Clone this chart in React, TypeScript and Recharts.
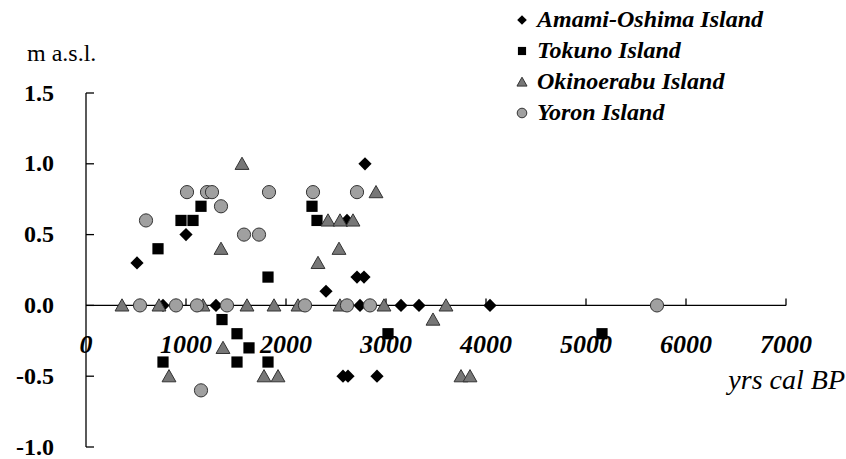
import React from 'react';
import {
  ScatterChart,
  Scatter,
  XAxis,
  YAxis,
  ReferenceLine,
  ReferenceDot,
} from 'recharts';

// sea-level index points, yrs cal BP vs m a.s.l.
const amamiPoints = [
  { x: 510, y: 0.3 }, { x: 1000, y: 0.5 }, { x: 770, y: 0 }, { x: 1300, y: 0 },
  { x: 2400, y: 0.1 }, { x: 2610, y: 0.6 }, { x: 2710, y: 0.2 }, { x: 2780, y: 0.2 },
  { x: 2790, y: 1.0 }, { x: 2740, y: 0 }, { x: 3150, y: 0 }, { x: 3330, y: 0 },
  { x: 4040, y: 0 }, { x: 2570, y: -0.5 }, { x: 2620, y: -0.5 }, { x: 2910, y: -0.5 },
];

const tokunoPoints = [
  { x: 720, y: 0.4 }, { x: 950, y: 0.6 }, { x: 1070, y: 0.6 }, { x: 1150, y: 0.7 },
  { x: 1820, y: 0.2 }, { x: 2260, y: 0.7 }, { x: 2310, y: 0.6 }, { x: 1360, y: -0.1 },
  { x: 1510, y: -0.2 }, { x: 1630, y: -0.3 }, { x: 770, y: -0.4 }, { x: 1510, y: -0.4 },
  { x: 1820, y: -0.4 }, { x: 3020, y: -0.2 }, { x: 5160, y: -0.2 },
];

const okinoerabuPoints = [
  { x: 360, y: 0 }, { x: 730, y: 0 }, { x: 1170, y: 0 }, { x: 1610, y: 0 },
  { x: 1880, y: 0 }, { x: 2120, y: 0 }, { x: 2540, y: 0 }, { x: 2980, y: 0 },
  { x: 3600, y: 0 }, { x: 1560, y: 1.0 }, { x: 1350, y: 0.4 }, { x: 2320, y: 0.3 },
  { x: 2420, y: 0.6 }, { x: 2540, y: 0.6 }, { x: 2670, y: 0.6 }, { x: 2530, y: 0.4 },
  { x: 2900, y: 0.8 }, { x: 1370, y: -0.3 }, { x: 830, y: -0.5 }, { x: 1780, y: -0.5 },
  { x: 1920, y: -0.5 }, { x: 3470, y: -0.1 }, { x: 3750, y: -0.5 }, { x: 3840, y: -0.5 },
];

const yoronPoints = [
  { x: 1010, y: 0.8 }, { x: 1210, y: 0.8 }, { x: 1260, y: 0.8 }, { x: 1830, y: 0.8 },
  { x: 2270, y: 0.8 }, { x: 2710, y: 0.8 }, { x: 1350, y: 0.7 }, { x: 600, y: 0.6 },
  { x: 1580, y: 0.5 }, { x: 1730, y: 0.5 }, { x: 1150, y: -0.6 }, { x: 540, y: 0 },
  { x: 900, y: 0 }, { x: 1110, y: 0 }, { x: 1410, y: 0 }, { x: 2190, y: 0 },
  { x: 2610, y: 0 }, { x: 2840, y: 0 }, { x: 5710, y: 0 },
];

const xTicks = [0, 1000, 2000, 3000, 4000, 5000, 6000, 7000];
const yTicks = [-1, -0.5, 0, 0.5, 1, 1.5];

const FONT = "'Liberation Serif', 'Times New Roman', Times, serif";

type MarkerKind = 'diamond' | 'square' | 'triangle' | 'circle';

function marker(kind: MarkerKind, cx: number, cy: number, s: number) {
  if (kind === 'diamond') {
    return (
      <path
        d={`M${cx} ${cy - s}L${cx + s} ${cy}L${cx} ${cy + s}L${cx - s} ${cy}Z`}
        fill="#000"
      />
    );
  }
  if (kind === 'square') {
    return <rect x={cx - s * 0.85} y={cy - s * 0.85} width={s * 1.7} height={s * 1.7} fill="#000" />;
  }
  if (kind === 'triangle') {
    return (
      <path
        d={`M${cx} ${cy - s}L${cx + s * 1.05} ${cy + s * 0.85}L${cx - s * 1.05} ${cy + s * 0.85}Z`}
        fill="#777"
        stroke="#333"
        strokeWidth={1}
      />
    );
  }
  return <circle cx={cx} cy={cy} r={s} fill="#a0a0a0" stroke="#333" strokeWidth={1} />;
}

const series: { name: string; data: { x: number; y: number }[]; kind: MarkerKind }[] = [
  { name: 'Amami-Oshima Island', data: amamiPoints, kind: 'diamond' },
  { name: 'Tokuno Island', data: tokunoPoints, kind: 'square' },
  { name: 'Okinoerabu Island', data: okinoerabuPoints, kind: 'triangle' },
  { name: 'Yoron Island', data: yoronPoints, kind: 'circle' },
];

export default function App() {
  return (
    <div style={{ position: 'absolute', left: 0, top: 0, width: 846, height: 459, background: '#fff', fontFamily: FONT }}>
      <ScatterChart
        width={846}
        height={459}
        margin={{ top: 93, right: 60, bottom: 12, left: 26 }}
        style={{ fontFamily: FONT }}
      >
        <XAxis type="number" dataKey="x" domain={[0, 7000]} ticks={xTicks} hide />
        <YAxis
          type="number"
          dataKey="y"
          domain={[-1, 1.5]}
          ticks={yTicks}
          interval={0}
          width={60}
          tickSize={0}
          tickMargin={32}
          tickLine={false}
          axisLine={{ stroke: '#000', strokeWidth: 1.3 }}
          tickFormatter={(v: number) => v.toFixed(1)}
          tick={{ fontSize: 24, fontWeight: 'bold', fill: '#000', fontFamily: FONT, dy: -1 }}
        />
        <ReferenceLine y={0} stroke="#000" strokeWidth={1.3} />
        {yTicks.map((v) => (
          <ReferenceDot
            key={`yt${v}`}
            x={0}
            y={v}
            shape={(p: any) => (
              <line x1={p.cx} x2={p.cx + 8} y1={p.cy} y2={p.cy} stroke="#000" strokeWidth={1.3} />
            )}
          />
        ))}
        {xTicks.map((v) => (
          <ReferenceDot
            key={`xt${v}`}
            x={v}
            y={0}
            shape={(p: any) => (
              <g>
                {v > 0 && (
                  <line x1={p.cx} x2={p.cx} y1={p.cy - 7} y2={p.cy} stroke="#000" strokeWidth={1.3} />
                )}
                <text
                  x={p.cx}
                  y={p.cy + 48}
                  textAnchor="middle"
                  fontSize={26}
                  fontWeight="bold"
                  fontStyle="italic"
                  style={{ fontFamily: FONT }}
                  fill="#000"
                >
                  {v}
                </text>
              </g>
            )}
          />
        ))}
        {series.map((s) => (
          <Scatter
            key={s.name}
            name={s.name}
            data={s.data}
            isAnimationActive={false}
            shape={(p: any) => marker(s.kind, p.cx, p.cy, 6.6)}
          />
        ))}
      </ScatterChart>

      <div
        style={{
          position: 'absolute',
          left: 27,
          top: 41,
          fontSize: 24,
          lineHeight: '24px',
          color: '#000',
          whiteSpace: 'nowrap',
        }}
      >
        m a.s.l.
      </div>

      <div
        style={{
          position: 'absolute',
          right: 1,
          top: 366,
          fontSize: 28,
          fontStyle: 'italic',
          lineHeight: '28px',
          color: '#000',
          whiteSpace: 'nowrap',
        }}
      >
        yrs cal BP
      </div>

      <div style={{ position: 'absolute', left: 514, top: 4 }}>
        {series.map((s) => (
          <div key={s.name} style={{ display: 'flex', alignItems: 'center', height: 31 }}>
            <svg width={16} height={16} style={{ flex: 'none' }}>
              {marker(s.kind, 8, 8, 4.8)}
            </svg>
            <span
              style={{
                marginLeft: 7,
                fontSize: 24,
                fontWeight: 'bold',
                fontStyle: 'italic',
                whiteSpace: 'nowrap',
                color: '#000',
              }}
            >
              {s.name}
            </span>
          </div>
        ))}
      </div>
    </div>
  );
}
